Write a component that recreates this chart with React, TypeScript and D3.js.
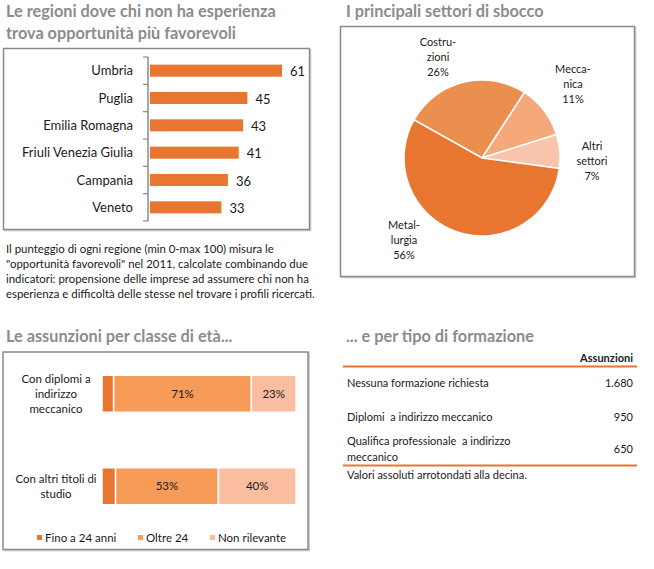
import React from "react";
import * as d3 from "d3";

const regions = ["Umbria", "Puglia", "Emilia Romagna", "Friuli Venezia Giulia", "Campania", "Veneto"];
const regionScores = [61, 45, 43, 41, 36, 33];

const sectorLabels = [["Costru-", "zioni"], ["Mecca-", "nica"], ["Altri", "settori"], ["Metal-", "lurgia"]];
const sectorValues = [26, 11, 7, 56];

const ageRows = [["Con diplomi a", "indirizzo", "meccanico"], ["Con altri titoli di", "studio"]];
const ageSeries = ["Fino a 24 anni", "Oltre 24", "Non rilevante"];
const ageYoung = [6, 7];
const ageOver = [71, 53];
const ageNR = [23, 40];

const trainingTypes = [["Nessuna formazione richiesta"], ["Diplomi  a indirizzo meccanico"], ["Qualifica professionale  a indirizzo", "meccanico"]];
const trainingHires = ["1.680", "950", "650"];

const FONT = "Lato, 'Open Sans', sans-serif";
const TITLE = "#8c8c8c";
const DARK = "#e87530";
const TXT = "#1a1a1a";
const TS = 16.3;

export default function App() {
  // chart 1
  const x1 = d3.scaleLinear().domain([0, 61]).range([150, 282]);
  const y1 = d3.scaleBand<string>().domain(regions).range([57, 221]).paddingInner(0.56).paddingOuter(0.28);
  const band1 = d3.scaleBand<string>().domain(regions).range([57, 221]);

  // pie
  const pieColors = ["#eb8f4f", "#f5a87a", "#f9c4ac", DARK];
  const start = -1.06;
  const pie = d3.pie<number>().sort(null).startAngle(start).endAngle(start + 2 * Math.PI);
  const arcs = pie(sectorValues);
  const arcGen = d3.arc<d3.PieArcDatum<number>>().innerRadius(0).outerRadius(78);
  const cx = 482, cy = 158;
  const labelPos = [[438, 42], [573, 69], [592, 146], [404, 225]];

  // stacked
  const x3 = d3.scaleLinear().domain([0, 100]).range([102, 296]);
  const rowsKey = ["r0", "r1"];
  const y3 = d3.scaleBand<string>().domain(rowsKey).range([366, 514]).paddingInner(0.6).paddingOuter(0.1);
  const stackData = rowsKey.map((k, i) => ({ key: k, a: ageYoung[i], b: ageOver[i], c: ageNR[i] }));
  const stacked = d3.stack<any>().keys(["a", "b", "c"])(stackData);
  const stackColors = [DARK, "#f79b58", "#fbbda0"];

  const paragraph = [
    "Il punteggio di ogni regione (min 0-max 100) misura le",
    "\"opportunità favorevoli\" nel 2011, calcolate combinando due",
    "indicatori: propensione delle imprese ad assumere chi non ha",
    "esperienza e difficoltà delle stesse nel trovare i profili ricercati.",
  ];

  const rowY = [383, 417, 449];

  return (
    <svg width={654} height={569} style={{ position: "absolute", left: 0, top: 0, fontFamily: FONT }}>
      <rect width={654} height={569} fill="#fff" />
      <defs>
        <filter id="sh" x="-5%" y="-5%" width="110%" height="110%">
          <feDropShadow dx="1" dy="1" stdDeviation="0.6" floodColor="#000" floodOpacity="0.25" />
        </filter>
      </defs>

      {/* Chart 1 */}
      <text x={6} y={17} fontSize={TS} fontWeight="bold" fill={TITLE}>Le regioni dove chi non ha esperienza</text>
      <text x={6} y={39} fontSize={TS} fontWeight="bold" fill={TITLE}>trova opportunità più favorevoli</text>
      <rect x={3.5} y={48.5} width={306} height={181} fill="#fff" stroke="#8a8a8a" strokeWidth={1.5} filter="url(#sh)" />
      <line x1={148} x2={148} y1={57} y2={221} stroke="#8a8a8a" strokeWidth={1.5} />
      {regions.map((r, i) => (
        <line key={"t" + i} x1={143} x2={148} y1={band1(r)!} y2={band1(r)!} stroke="#8a8a8a" strokeWidth={1.2} />
      ))}
      <line x1={143} x2={148} y1={221} y2={221} stroke="#8a8a8a" strokeWidth={1.2} />
      {regions.map((r, i) => (
        <g key={r}>
          <rect x={x1(0)} y={y1(r)!} width={x1(regionScores[i]) - x1(0)} height={y1.bandwidth()} fill={DARK} />
          <text x={133} y={y1(r)! + y1.bandwidth() / 2} dy="0.35em" textAnchor="end" fontSize={13} fill={TXT}>{r}</text>
          <text x={x1(regionScores[i]) + 8} y={y1(r)! + y1.bandwidth() / 2 + 1} dy="0.35em" fontSize={13} fill={TXT}>{regionScores[i]}</text>
        </g>
      ))}
      {paragraph.map((l, i) => (
        <text key={i} x={6} y={253 + i * 15} fontSize={11.4} fill={TXT}>{l}</text>
      ))}

      {/* Pie */}
      <text x={346} y={17} fontSize={TS} fontWeight="bold" fill={TITLE}>I principali settori di sbocco</text>
      <rect x={340.5} y={26.5} width={294} height={250} fill="#fff" stroke="#8a8a8a" strokeWidth={1.5} filter="url(#sh)" />
      <g transform={`translate(${cx},${cy})`}>
        {arcs.map((a, i) => (
          <path key={i} d={arcGen(a)!} fill={pieColors[i]} stroke="#fff" strokeWidth={1.5} />
        ))}
      </g>
      {sectorLabels.map((lines, i) => (
        <text key={i} textAnchor="middle" fontSize={11} fill={TXT}>
          {lines.map((ln, j) => (
            <tspan key={j} x={labelPos[i][0]} y={labelPos[i][1] + j * 15 + 4}>{ln}</tspan>
          ))}
          <tspan x={labelPos[i][0]} y={labelPos[i][1] + 30 + 4}>{sectorValues[i]}%</tspan>
        </text>
      ))}

      {/* Stacked */}
      <text x={6} y={342} fontSize={TS} fontWeight="bold" fill={TITLE}>Le assunzioni per classe di età...</text>
      <rect x={3} y={352} width={305} height={197.5} fill="#fff" stroke="#8a8a8a" strokeWidth={1.5} filter="url(#sh)" />
      {stacked.map((s, si) => (
        <g key={si}>
          {s.map((d, ri) => {
            const x0 = x3(d[0]);
            const w = x3(d[1]) - x3(d[0]);
            const yy = y3(rowsKey[ri])!;
            return (
              <g key={ri}>
                <rect x={x0} y={yy} width={w} height={y3.bandwidth()} fill={stackColors[si]} stroke="#fff" strokeWidth={1.5} />
                {si > 0 && (
                  <text x={x0 + w / 2} y={yy + y3.bandwidth() / 2} dy="0.35em" textAnchor="middle" fontSize={11.5} fill={TXT}>
                    {d[1] - d[0]}%
                  </text>
                )}
              </g>
            );
          })}
        </g>
      ))}
      {ageRows.map((lines, i) => {
        const yy = y3(rowsKey[i])! + y3.bandwidth() / 2;
        const n = lines.length;
        return (
          <text key={i} textAnchor="middle" fontSize={11.5} fill={TXT}>
            {lines.map((ln, j) => (
              <tspan key={j} x={56} y={yy + (j - (n - 1) / 2) * 15 + 4}>{ln}</tspan>
            ))}
          </text>
        );
      })}
      {ageSeries.map((s, i) => {
        const lx = [37, 138, 210][i];
        return (
          <g key={s}>
            <rect x={lx} y={535} width={5} height={5} fill={stackColors[i]} />
            <text x={lx + 8} y={538} dy="0.35em" fontSize={11.5} fill={TXT}>{s}</text>
          </g>
        );
      })}

      {/* Table */}
      <text x={346} y={342} fontSize={TS} fontWeight="bold" fill={TITLE}>... e per tipo di formazione</text>
      <text x={633} y={358} dy="0.35em" textAnchor="end" fontSize={11} fontWeight="bold" fill={TXT}>Assunzioni</text>
      <line x1={343} x2={637} y1={366.5} y2={366.5} stroke={DARK} strokeWidth={2} />
      {trainingTypes.map((lines, i) => (
        <g key={i}>
          <text fontSize={11} fill={TXT} style={{ whiteSpace: "pre" }}>
            {lines.map((ln, j) => (
              <tspan key={j} x={347} y={(lines.length > 1 ? rowY[i] - 8 : rowY[i]) + j * 16 + 4}>{ln}</tspan>
            ))}
          </text>
          <text x={633} y={rowY[i] + 4} textAnchor="end" fontSize={11} fill={TXT}>{trainingHires[i]}</text>
        </g>
      ))}
      <line x1={343} x2={637} y1={465.5} y2={465.5} stroke={DARK} strokeWidth={2} />
      <text x={347} y={479} fontSize={11} fill={TXT}>Valori assoluti arrotondati alla decina.</text>
    </svg>
  );
}
